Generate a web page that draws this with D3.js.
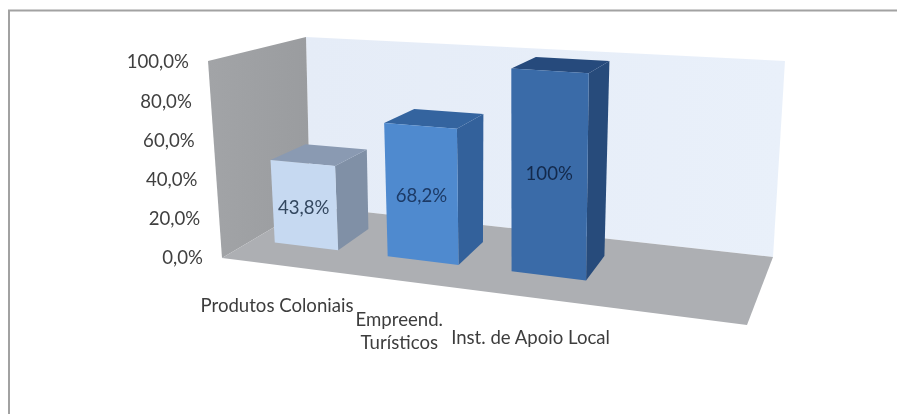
<!DOCTYPE html>
<html><head><meta charset="utf-8">
<script src="https://d3js.org/d3.v7.min.js"></script>
<style>html,body{margin:0;background:#fff}svg{display:block;filter:blur(.55px)}text{font-family:Lato,sans-serif}</style>
</head><body><svg id="c" width="897" height="414"></svg>
<script>
const categories = ["Produtos Coloniais", "Empreend.|Turísticos", "Inst. de Apoio Local"];
const values = [43.8, 68.2, 100];
const valueLabels = ["43,8%", "68,2%", "100%"];
const yTicks = [0, 20, 40, 60, 80, 100];

const svg = d3.select("#c");
// 3D box corners on screen: floor and 100% plane (front-left, front-right, back-right, back-left)
const F = [[222,258],[747,325],[773,257],[310,206]];
const T = [[208,61],[755,96],[785,61],[306,37]];
const bil = (Q,u,w,i) => {
  const a = Q[0][i]+(Q[3][i]-Q[0][i])*w, b = Q[1][i]+(Q[2][i]-Q[1][i])*w;
  return a+(b-a)*u;
};
const vs = d3.scaleLinear().domain([0,100]).range([0,1]);
const warp = d3.scalePow().exponent(1.1).domain([0,1]).range([0,1]);
const band = d3.scaleBand().domain(categories).range([.058,.6875]).paddingInner(.421).paddingOuter(0);
const P = (t,v,w) => {
  const u = warp(t), k = vs(v);
  return [bil(F,u,w,0)+(bil(T,u,w,0)-bil(F,u,w,0))*k, bil(F,u,w,1)+(bil(T,u,w,1)-bil(F,u,w,1))*k];
};
const poly = (pts,fill,stroke) => svg.append("polygon").attr("points",pts.map(p=>p.join(",")).join(" ")).attr("fill",fill).attr("stroke",stroke||"none");

// frame
svg.append("path").attr("d","M9,414V10.5H897").attr("fill","none").attr("stroke","#a2a2a2").attr("stroke-width",2);

// walls and floor
const defs = svg.append("defs");
const g1 = defs.append("linearGradient").attr("id","wall").attr("x1",0).attr("x2",1).attr("y1",0).attr("y2",0);
g1.append("stop").attr("offset",0).attr("stop-color","#a2a4a7");
g1.append("stop").attr("offset",1).attr("stop-color","#9a9c9f");
const g2 = defs.append("linearGradient").attr("id","back").attr("x1",0).attr("x2",1).attr("y1",0).attr("y2",0);
g2.append("stop").attr("offset",0).attr("stop-color","#e5ecf7");
g2.append("stop").attr("offset",1).attr("stop-color","#e9f0fa");
poly([T[3],T[2],F[2],F[3]],"url(#back)");
poly([T[0],T[3],F[3],F[0]],"url(#wall)");
poly(F,"#adafb3");

// bars
const front = ["#c6d9f1","#4f8acf","#3a6ba8"];
const top_  = ["#8a9ab2","#34649f","#264a7c"];
const side  = ["#8090a6","#33619b","#274b7b"];
const w0=.35,w1=.74;
const labelDy = [9,9,7];
categories.forEach((c,i)=>{
  const a=band(c), b=a+band.bandwidth(), v=values[i];
  poly([P(b,0,w0),P(b,0,w1),P(b,v,w1),P(b,v,w0)],side[i]);
  poly([P(a,v,w0),P(b,v,w0),P(b,v,w1),P(a,v,w1)],top_[i]);
  poly([P(a,0,w0),P(b,0,w0),P(b,v,w0),P(a,v,w0)],front[i]);
  const m=P((a+b)/2,v/2,w0);
  svg.append("text").attr("x",m[0]).attr("y",m[1]+labelDy[i]).attr("text-anchor","middle")
    .attr("font-size",18.6).attr("fill",i==2?"#13294b":i==1?"#1c3a66":"#33475f").text(valueLabels[i]);
  const base=P((a+b)/2,0,0);
  const lines=c.split("|");
  lines.forEach((l,j)=>{
    const dy = lines.length>1 ? 46+(j-.5)*23+11 : 47;
    svg.append("text").attr("x",base[0]).attr("y",base[1]+dy).attr("text-anchor","middle")
      .attr("font-size",18.6).attr("fill","#3d3d3d").text(l);
  });
});

// y axis labels, following the slanted front edge of the wall
const y = d3.scaleLinear().domain([0,100]).range([258,62]);
const ax = svg.append("g")
  .call(d3.axisLeft(y).tickValues(yTicks).tickSize(0).tickPadding(0).tickFormat(d=>d3.format(".1f")(d).replace(".",",")+"%"));
ax.select(".domain").remove();
ax.selectAll("text").attr("x",d=>P(0,d,0)[0]-19).attr("font-family","Lato,sans-serif").attr("font-size",18.6).attr("fill","#404040");
</script></body></html>
